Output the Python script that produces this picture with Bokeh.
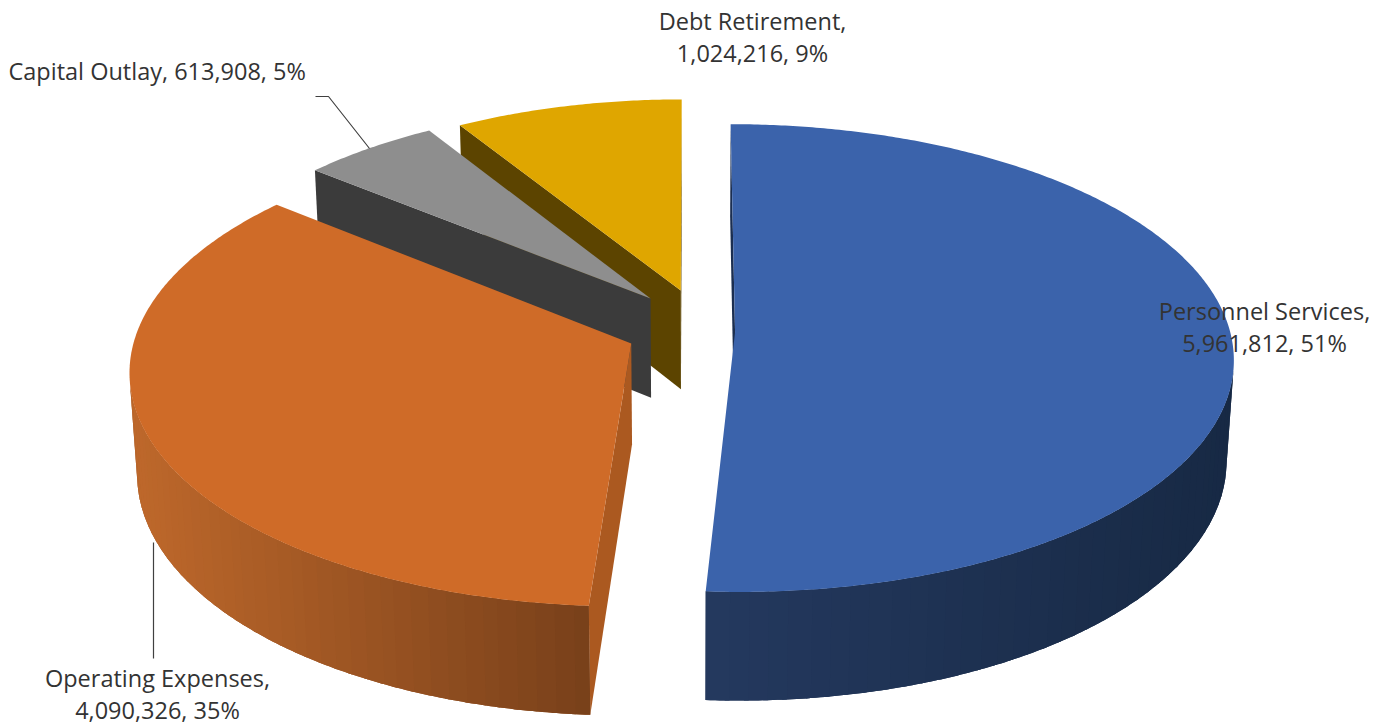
import numpy as np
from bokeh.plotting import figure
from bokeh.models import Range1d
from bokeh.core.properties import value
from bokeh.embed import file_html
from bokeh.resources import INLINE

# ---------------- data ----------------
categories = ["Personnel Services", "Operating Expenses", "Capital Outlay", "Debt Retirement"]
amounts = [5961812, 4090326, 613908, 1024216]

# ---------------- style ----------------
top_colors = ["#3B63AB", "#CF6B28", "#8E8E8E", "#DFA600"]
side_light = ["#24395F", "#BE682B", "#3B3B3B", "#5E4500"]
side_dark = ["#172944", "#78401A", "#343434", "#574000"]
radial_colors = ["#1B2E50", "#AB5920", "#3B3B3B", "#5C4400"]
# explosion shift of every slice in the pie plane (radius units) and slice radius
explode_shift = [(0.09, -0.003), (-0.119, -0.052), (-0.082, 0.145), (-0.02, 0.181)]
slice_radius = [1.0, 1.0, 0.96, 0.95]

W, HGT = 1394, 728
PHI = np.radians(27.8)      # elevation of the view
DIST = 8.0                  # camera distance (in radii)
SCALE = 495.0               # pixels per radius at the pie centre
CX, CY = 690.0, 331.0       # pixel position of the pie centre
DEPTH = 0.232               # thickness of the pie (in radii)

cp, sp = np.cos(PHI), np.sin(PHI)
cam = np.array([0.0, -DIST * cp, DIST * sp])


def proj(X, Y, Z):
    X = np.asarray(X, float); Y = np.asarray(Y, float); Z = np.asarray(Z, float)
    d = DIST + Y * cp - Z * sp
    return X * DIST / d, (Y * sp + Z * cp) * DIST / d


def hex2rgb(h):
    h = h.lstrip("#")
    return np.array([int(h[i:i + 2], 16) for i in (0, 2, 4)], float)


def mix(a, b, t):
    c = hex2rgb(a) * (1 - t) + hex2rgb(b) * t
    return "#%02x%02x%02x" % tuple(int(round(v)) for v in c)


def px2u(x):
    return (x - CX) / SCALE


def px2v(y):
    return (CY - y) / SCALE


p = figure(width=W, height=HGT, output_backend="svg", toolbar_location=None,
           x_range=Range1d(px2u(0), px2u(W)), y_range=Range1d(px2v(HGT), px2v(0)),
           min_border=0, x_axis_location=None, y_axis_location=None)
p.grid.visible = False
p.outline_line_color = None
p.background_fill_color = "white"
p.border_fill_color = "white"

total = float(sum(amounts))
frac = np.array(amounts, float) / total
cum = np.concatenate([[0.0], np.cumsum(frac)])

slices = []
for i in range(len(amounts)):
    ts = 90.0 - 360.0 * cum[i]
    te = 90.0 - 360.0 * cum[i + 1]
    ox, oy = explode_shift[i]
    slices.append((i, np.radians(ts), np.radians(te), ox, oy, slice_radius[i]))

# painter order: farthest first
slices.sort(key=lambda s: -(s[4]))

xs, ys, cols = [], [], []


def add_poly(X, Y, Z, col):
    u, v = proj(X, Y, Z)
    xs.append(list(u)); ys.append(list(v)); cols.append(col)


for (i, ts, te, ox, oy, r) in slices:
    n = max(10, int(abs(np.degrees(ts - te)) * 2))
    th = np.linspace(ts, te, n)
    rx = ox + r * np.cos(th)
    ry = oy + r * np.sin(th)

    # radial faces
    faces = [(ts, np.array([-np.sin(ts), np.cos(ts), 0.0])),
             (te, np.array([np.sin(te), -np.cos(te), 0.0]))]
    for ang, nrm in faces:
        ex, ey = ox + r * np.cos(ang), oy + r * np.sin(ang)
        P = np.array([(ox + ex) / 2, (oy + ey) / 2, -DEPTH / 2])
        if np.dot(nrm, cam - P) > 0:
            add_poly([ox, ex, ex, ox], [oy, ey, ey, oy], [0, 0, -DEPTH, -DEPTH], radial_colors[i])

    # outer curved side (visible segments only), drawn as overlapping colour bands
    vis = []
    for k in range(n - 1):
        tm = (th[k] + th[k + 1]) / 2
        P = np.array([ox + r * np.cos(tm), oy + r * np.sin(tm), -DEPTH / 2])
        nrm = np.array([np.cos(tm), np.sin(tm), 0.0])
        if np.dot(nrm, cam - P) > 0:
            vis.append(k)
    if vis:
        k0, k1 = vis[0], vis[-1] + 1
        idx = np.arange(k0, k1 + 1)
        X = np.concatenate([rx[idx], rx[idx][::-1]])
        Y = np.concatenate([ry[idx], ry[idx][::-1]])
        Z = np.concatenate([np.zeros(len(idx)), np.full(len(idx), -DEPTH)])
        add_poly(X, Y, Z, mix(side_light[i], side_dark[i], 0.5))
        u_ends = proj(rx[[k0, k1]], ry[[k0, k1]], [0, 0])[0]
        umin, umax = min(u_ends), max(u_ends)
        nb = 40
        edges = np.linspace(k0, k1, nb + 1).astype(int)
        for b in range(nb):
            a0, a1 = edges[b], min(edges[b + 1] + 1, k1)
            if a1 <= a0:
                continue
            idb = np.arange(a0, a1 + 1)
            um = proj([rx[(a0 + a1) // 2]], [ry[(a0 + a1) // 2]], [0])[0][0]
            t = 0.0 if umax == umin else (um - umin) / (umax - umin)
            X = np.concatenate([rx[idb], rx[idb][::-1]])
            Y = np.concatenate([ry[idb], ry[idb][::-1]])
            Z = np.concatenate([np.zeros(len(idb)), np.full(len(idb), -DEPTH)])
            add_poly(X, Y, Z, mix(side_light[i], side_dark[i], min(max(t, 0), 1)))

    # top face
    add_poly(np.concatenate([[ox], rx]), np.concatenate([[oy], ry]),
             np.zeros(n + 1), top_colors[i])

p.patches(xs=xs, ys=ys, fill_color=cols, line_color=None)

# ---------------- leader lines (pixel layout) ----------------
leaders = [([315, 328, 369], [96, 96, 148]),   # Capital Outlay
           ([153, 153], [542, 658])]           # Operating Expenses
for lx, ly in leaders:
    p.line([px2u(x) for x in lx], [px2v(y) for y in ly], line_color="#404040", line_width=1.2)

# ---------------- labels ----------------
pct = [int(round(f * 100)) for f in frac]
label_layout = {  # x, first line centre, align, two lines
    "Personnel Services": (1264, 310, "center", True),
    "Operating Expenses": (157, 677, "center", True),
    "Capital Outlay": (8, 70, "left", False),
    "Debt Retirement": (752, 20, "center", True),
}
LINE_GAP = 32
for cat, amt, pc in zip(categories, amounts, pct):
    x, y, al, two = label_layout[cat]
    if two:
        lines = [f"{cat},", f"{amt:,}, {pc}%"]
    else:
        lines = [f"{cat}, {amt:,}, {pc}%"]
    for j, txt in enumerate(lines):
        p.text(x=[px2u(x)], y=[px2v(y + j * LINE_GAP)], text=[txt],
               text_font=value("Open Sans"), text_font_size="23.5px",
               text_color="#333333", text_align=al, text_baseline="middle")

open("out.html", "w").write(file_html(p, INLINE))
